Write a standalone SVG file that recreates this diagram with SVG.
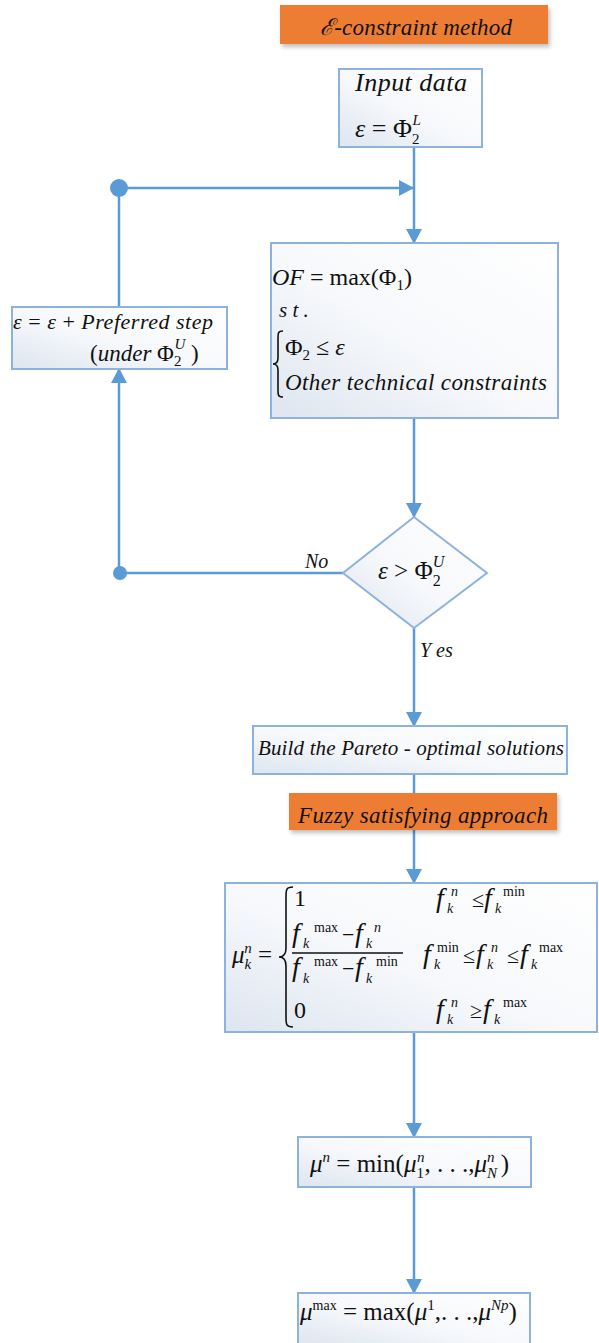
<svg xmlns="http://www.w3.org/2000/svg" width="599" height="1343" viewBox="0 0 599 1343">
<style>
.box{fill:url(#g);stroke:#8db3dc;stroke-width:2}
.org{fill:#ed7d31}
.ln{stroke:#5b9bd5;stroke-width:2.5;fill:none}
.dot{fill:#5b9bd5}
.br{fill:none;stroke:#111;stroke-width:1.6}
text{font-family:"Liberation Serif","Times New Roman",serif;fill:#111}
.i{font-style:italic}
.s{font-size:14px}
.f{font-size:28px;font-style:italic}
</style>
<defs>
<linearGradient id="g" x1="1" y1="0" x2="0" y2="1">
<stop offset="0" stop-color="#ffffff"/>
<stop offset="0.55" stop-color="#f6f8fb"/>
<stop offset="1" stop-color="#dde5ef"/>
</linearGradient>
<filter id="sh" x="-5%" y="-10%" width="115%" height="140%">
<feDropShadow dx="2" dy="3" stdDeviation="2" flood-color="#000" flood-opacity="0.25"/>
</filter>
<marker id="a" markerUnits="userSpaceOnUse" markerWidth="16" markerHeight="16" refX="14" refY="8" orient="auto" viewBox="0 0 16 16">
<path d="M0,0 L15,8 L0,16 z" fill="#5b9bd5"/>
</marker>
</defs>

<g id="connectors">
<line class="ln" x1="414" y1="147" x2="414" y2="243" marker-end="url(#a)"/>
<line class="ln" x1="119" y1="188" x2="413" y2="188" marker-end="url(#a)"/>
<line class="ln" x1="119" y1="188" x2="119" y2="307"/>
<line class="ln" x1="119" y1="573" x2="119" y2="369" marker-end="url(#a)"/>
<line class="ln" x1="343" y1="573" x2="119" y2="573"/>
<circle class="dot" cx="119" cy="188" r="9"/>
<circle class="dot" cx="120" cy="573" r="7"/>
<line class="ln" x1="414" y1="418" x2="414" y2="517" marker-end="url(#a)"/>
<line class="ln" x1="414" y1="628" x2="414" y2="726" marker-end="url(#a)"/>
<line class="ln" x1="414" y1="774" x2="414" y2="793"/>
<line class="ln" x1="414" y1="830" x2="414" y2="883" marker-end="url(#a)"/>
<line class="ln" x1="414" y1="1032" x2="414" y2="1137" marker-end="url(#a)"/>
<line class="ln" x1="414" y1="1187" x2="414" y2="1293" marker-end="url(#a)"/>
<text x="305" y="568" class="i" font-size="20">No</text>
<text x="420" y="657" class="i" font-size="20">Y es</text>
</g>

<g id="title1">
<rect class="org" x="280" y="5" width="268" height="39" filter="url(#sh)"/>
<text x="416" y="35" text-anchor="middle" class="i" font-size="23" textLength="192">ℰ-constraint method</text>
</g>

<g id="input">
<rect class="box" x="339" y="69" width="143" height="78"/>
<text x="411" y="91" text-anchor="middle" class="i" font-size="26" textLength="112">Input data</text>
<text x="355" y="137" font-size="26"><tspan class="i">ε</tspan> = Φ<tspan font-size="15" dy="7">2</tspan><tspan class="i" font-size="15" dx="-7" dy="-19">L</tspan></text>
</g>

<g id="optimize">
<rect class="box" x="271" y="243" width="287" height="175"/>
<text x="272" y="285" font-size="24"><tspan class="i">OF</tspan> = max(Φ<tspan font-size="15" dy="5">1</tspan><tspan dy="-5">)</tspan></text>
<text x="279" y="317" class="i" font-size="21">s t .</text>
<path class="br" d="M283,331 C278,331 278,333 278,338 L278,358 C278,362 277,364 273,364 C277,364 278,366 278,370 L278,390 C278,395 278,397 283,397"/>
<text x="285" y="355" font-size="24">Φ<tspan font-size="15" dy="5">2</tspan><tspan dy="-5"> ≤ </tspan><tspan class="i">ε</tspan></text>
<text x="285" y="390" class="i" font-size="23" textLength="262">Other technical constraints</text>
</g>

<g id="step">
<rect class="box" x="12" y="307" width="215" height="62"/>
<text x="13" y="329" font-size="22" textLength="200"><tspan class="i">ε</tspan> = <tspan class="i">ε</tspan> + <tspan class="i">Preferred step</tspan></text>
<text x="90" y="361" font-size="23">(<tspan class="i">under</tspan>  Φ<tspan font-size="15" dy="5">2</tspan><tspan class="i" font-size="15" dx="-7" dy="-17">U</tspan><tspan dy="12"> )</tspan></text>
</g>

<g id="decision">
<polygon class="box" points="414,517 487,573 414,628 343,573"/>
<text x="378" y="579" font-size="25"><tspan class="i">ε</tspan> &gt; Φ<tspan font-size="16" dy="7">2</tspan><tspan class="i" font-size="16" dx="-8" dy="-19">U</tspan></text>
</g>

<g id="pareto">
<rect class="box" x="253" y="726" width="314" height="48"/>
<text x="411" y="755" text-anchor="middle" class="i" font-size="21" textLength="306">Build the Pareto - optimal solutions</text>
</g>

<g id="title2">
<rect class="org" x="289" y="793" width="268" height="37" filter="url(#sh)"/>
<text x="423" y="823" text-anchor="middle" class="i" font-size="23" textLength="250">Fuzzy satisfying approach</text>
</g>

<g id="membership">
<rect class="box" x="225" y="883" width="372" height="149"/>
<text x="232" y="963" font-size="25"><tspan class="i">μ</tspan><tspan class="i" font-size="15" dy="6">k</tspan><tspan class="i" font-size="15" dx="-7" dy="-16">n</tspan><tspan dy="10"> =</tspan></text>
<path class="br" d="M293,887 C286,887 286,890 286,897 L286,948 C286,954 284,957 279,957 C284,957 286,960 286,966 L286,1017 C286,1024 286,1027 293,1027"/>
<text x="294" y="906" font-size="24">1</text>
<g>
<text x="436" y="907" class="f">f</text><text x="447" y="913" class="i s">k</text><text x="451" y="896" class="i s">n</text>
<text x="472" y="907" font-size="22">≤</text>
<text x="484" y="907" class="f">f</text><text x="495" y="913" class="i s">k</text><text x="503" y="896" class="s">min</text>
</g>
<g>
<text x="292" y="942" class="f">f</text><text x="303" y="948" class="i s">k</text><text x="314" y="932" class="s">max</text>
<text x="342" y="942" font-size="22">−</text>
<text x="355" y="942" class="f">f</text><text x="366" y="948" class="i s">k</text><text x="374" y="932" class="i s">n</text>
<line x1="292" y1="953" x2="403" y2="953" stroke="#111" stroke-width="1.4"/>
<text x="292" y="976" class="f">f</text><text x="303" y="983" class="i s">k</text><text x="314" y="966" class="s">max</text>
<text x="342" y="976" font-size="22">−</text>
<text x="355" y="976" class="f">f</text><text x="366" y="983" class="i s">k</text><text x="376" y="966" class="s">min</text>
</g>
<g>
<text x="423" y="963" class="f">f</text><text x="434" y="969" class="i s">k</text><text x="437" y="952" class="s">min</text>
<text x="463" y="963" font-size="22">≤</text>
<text x="476" y="963" class="f">f</text><text x="487" y="969" class="i s">k</text><text x="491" y="952" class="i s">n</text>
<text x="507" y="963" font-size="22">≤</text>
<text x="520" y="963" class="f">f</text><text x="531" y="969" class="i s">k</text><text x="539" y="952" class="s">max</text>
</g>
<text x="294" y="1018" font-size="24">0</text>
<g>
<text x="436" y="1018" class="f">f</text><text x="447" y="1024" class="i s">k</text><text x="451" y="1007" class="i s">n</text>
<text x="470" y="1018" font-size="22">≥</text>
<text x="483" y="1018" class="f">f</text><text x="494" y="1024" class="i s">k</text><text x="503" y="1007" class="s">max</text>
</g>
</g>

<g id="minimum">
<rect class="box" x="298" y="1137" width="233" height="50"/>
<text x="310" y="1172" font-size="25"><tspan class="i">μ</tspan><tspan class="i" font-size="15" dy="-10">n</tspan><tspan dy="10"> = min(</tspan><tspan class="i">μ</tspan><tspan font-size="15" dy="6">1</tspan><tspan class="i" font-size="15" dx="-7" dy="-16">n</tspan><tspan dy="10">, . . .,</tspan><tspan class="i">μ</tspan><tspan class="i" font-size="15" dy="6">N</tspan><tspan class="i" font-size="15" dx="-10" dy="-16">n</tspan><tspan dy="10"> )</tspan></text>
</g>

<g id="maximum">
<rect class="box" x="298" y="1293" width="232" height="52"/>
<text x="300" y="1320" font-size="25"><tspan class="i">μ</tspan><tspan font-size="14" dy="-10">max</tspan><tspan dy="10"> = max(</tspan><tspan class="i">μ</tspan><tspan font-size="15" dy="-10">1</tspan><tspan dy="10">,. . .,</tspan><tspan class="i">μ</tspan><tspan class="i" font-size="15" dy="-10">Np</tspan><tspan dy="10">)</tspan></text>
</g>
</svg>
